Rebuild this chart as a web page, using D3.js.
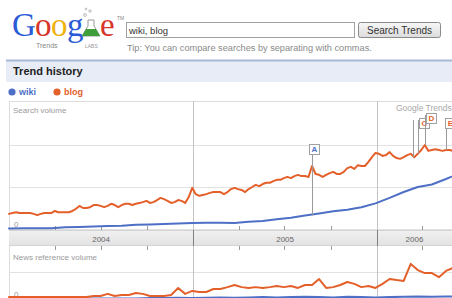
<!DOCTYPE html>
<html>
<head>
<meta charset="utf-8">
<script src="https://cdn.jsdelivr.net/npm/d3@7"></script>
<style>
  body { margin: 0; background: #fff; }
  svg { display: block; font-family: "Liberation Sans", Arial, sans-serif; }
</style>
</head>
<body>
<div id="chart"></div>
<script>
// --- Data ---
const queryText = "wiki, blog";
const seriesNames = ["wiki", "blog"];
const yearLabels = ["2004", "2005", "2006"];
const startDate = new Date(2004, 0, 1);

// search volume, one value per week
const blogSearch = [
  .36, .38, .40, .38, .38, .38, .38, .36, .33, .36,
  .38, .38, .38, .43, .40, .40, .40, .40, .43, .48,
  .55, .50, .50, .52, .57, .57, .55, .52, .55, .60,
  .57, .52, .57, .60, .60, .57, .60, .62, .64, .67,
  .62, .64, .69, .74, .71, .67, .62, .64, .69, .67,
  .62, .76, .98, .83, .79, .81, .83, .86, .88, .88,
  .88, .83, .88, .95, .98, .95, .93, .88, .95, 1.00,
  1.05, 1.02, 1.07, 1.10, 1.10, 1.14, 1.17, 1.17, 1.21, 1.24,
  1.21, 1.26, 1.29, 1.26, 1.26, 1.24, 1.50, 1.31, 1.29, 1.24,
  1.29, 1.33, 1.36, 1.31, 1.31, 1.36, 1.45, 1.48, 1.43, 1.52,
  1.50, 1.50, 1.60, 1.71, 1.81, 1.79, 1.74, 1.76, 1.83, 1.74,
  1.69, 1.67, 1.71, 1.76, 1.79, 1.71, 1.79, 1.88, 2.00, 1.86,
  1.88, 1.90, 1.88, 1.86, 1.88, 1.88, 1.86, 1.88, 1.86, 1.83
];
// search volume, one value every 4 weeks
const wikiSearch = [
  .01, .02, .02, .02, .04, .05, .06, .07, .08, .10,
  .11, .12, .13, .14, .15, .15, .14, .17, .19, .23,
  .27, .32, .37, .42, .46, .52, .61, .74, .88, 1.00,
  1.06, 1.19, 1.33
];
// news reference volume, one value every 2 weeks
const blogNews = [
  .07, .07, .07, .07, .07, .07, .07, .07, .07, .07,
  .07, .07, .11, .11, .19, .11, .15, .15, .22, .19,
  .11, .11, .11, .15, .41, .19, .30, .26, .26, .37,
  .37, .44, .52, .44, .41, .44, .41, .44, .48, .44,
  .48, .41, .52, .52, .74, .41, .44, .52, .63, .56,
  .44, .48, .41, .56, .74, .70, .67, 1.30, 1.07, .96,
  .96, .81, 1.04, 1.15, 1.15
];
// news reference volume, one value every 4 weeks
const wikiNews = [
  .02, .02, .02, .02, .02, .02, .02, .02, .02, .02,
  .04, .04, .05, .04, .05, .06, .05, .06, .07, .06,
  .07, .08, .07, .06, .08, .07, .06, .07, .08, .09,
  .08, .09, .10
];

// news flags
const flagLetters = ["A", "C", "D", "E"];
const flagSeries = ["wiki", "blog", "blog", "blog"];
const flagDates = [["2005-08-24"], ["2006-03-13", "2006-03-23"], ["2006-04-06"], ["2006-05-18"]];

// --- Setup ---
const W = 452, H = 298;
const colors = { wiki: "#4e6fc6", blog: "#e4602a" };
const svg = d3.select("#chart").append("svg").attr("width", W).attr("height", H);

// --- Header: logo, search box, tip ---
const logo = svg.append("g");
const logoLetters = [
  { ch: "G", x: 12, c: "#2a5bd7" },
  { ch: "o", x: 35, c: "#d8352a" },
  { ch: "o", x: 51, c: "#eeb211" },
  { ch: "g", x: 67, c: "#2a5bd7" },
  { ch: "e", x: 100, c: "#d8352a" }
];
logo.selectAll("text.l").data(logoLetters).enter().append("text")
  .attr("class", "l")
  .attr("x", d => d.x).attr("y", 36)
  .attr("font-family", "'Liberation Serif', serif")
  .attr("font-size", 33)
  .attr("fill", d => d.c)
  .text(d => d.ch);
// flask in place of the "l"
logo.append("path").attr("d", "M88,20 L94,20 L94,26 L100,36 L82,36 L88,26 Z")
  .attr("fill", "#fff").attr("stroke", "#999").attr("stroke-width", 1);
logo.append("path").attr("d", "M86,29 L96,29 L100,36 L82,36 Z").attr("fill", "#3f9e3a");
[[85, 15, 1.4], [90, 11, 1.2], [86, 9, 0.9]].forEach(b => {
  logo.append("circle").attr("cx", b[0]).attr("cy", b[1]).attr("r", b[2])
    .attr("fill", "none").attr("stroke", "#aaa").attr("stroke-width", 0.8);
});
logo.append("text").attr("x", 117).attr("y", 20).attr("font-size", 5).attr("fill", "#888").text("TM");
logo.append("text").attr("x", 36).attr("y", 48).attr("font-size", 7).attr("fill", "#888").text("Trends");
logo.append("text").attr("x", 85).attr("y", 48).attr("font-size", 5).attr("fill", "#999").text("LABS");

svg.append("rect").attr("x", 126.5).attr("y", 22.5).attr("width", 228).attr("height", 15)
  .attr("fill", "#fff").attr("stroke", "#a0a0a0");
svg.append("text").attr("x", 129).attr("y", 33.5).attr("font-size", 9.5).attr("fill", "#333").text(queryText);

const grad = svg.append("defs").append("linearGradient").attr("id", "btn")
  .attr("x1", 0).attr("y1", 0).attr("x2", 0).attr("y2", 1);
grad.append("stop").attr("offset", "0%").attr("stop-color", "#f7f7f7");
grad.append("stop").attr("offset", "100%").attr("stop-color", "#dcdcdc");
svg.append("rect").attr("x", 358.5).attr("y", 22.5).attr("width", 82).attr("height", 15).attr("rx", 2)
  .attr("fill", "url(#btn)").attr("stroke", "#8a8a8a");
svg.append("text").attr("x", 399.5).attr("y", 33.5).attr("text-anchor", "middle")
  .attr("font-size", 10).attr("fill", "#333").text("Search Trends");

svg.append("text").attr("x", 127).attr("y", 51).attr("font-size", 9.2).attr("fill", "#8a8a8a")
  .text("Tip: You can compare searches by separating with commas.");

// --- Trend history band + legend ---
svg.append("rect").attr("x", 6).attr("y", 60).attr("width", W).attr("height", 22).attr("fill", "#e7ecf6");
svg.append("line").attr("x1", 6).attr("x2", W).attr("y1", 60.5).attr("y2", 60.5)
  .attr("stroke", "#a9b7d6").attr("stroke-width", 2);
svg.append("text").attr("x", 13).attr("y", 75).attr("font-size", 11).attr("font-weight", "bold")
  .attr("fill", "#222").text("Trend history");

const legend = svg.append("g").attr("transform", "translate(0,92)");
let lx = 12;
seriesNames.forEach(name => {
  legend.append("circle").attr("cx", lx).attr("cy", 0).attr("r", 3.6).attr("fill", colors[name]);
  legend.append("text").attr("x", lx + 7).attr("y", 3.2).attr("font-size", 9)
    .attr("font-weight", "bold").attr("fill", colors[name]).text(name);
  lx += 45;
});

// --- Scales ---
const x = d3.scaleTime()
  .domain([new Date(2004, 0, 1), new Date(2006, 0, 1)])
  .range([9, 377]);
const xEnd = 480;
const ySearch = d3.scaleLinear().domain([0, 3]).range([229, 103]);
const yNews = d3.scaleLinear().domain([0, 1]).range([299, 272]);
const bandTop = 230, bandBottom = 246, panelTop = 101;

const toSeries = (vals, step) => vals.map((v, i) => ({ date: d3.timeWeek.offset(startDate, i * step), value: v }));
const series = {
  search: { blog: toSeries(blogSearch, 1), wiki: toSeries(wikiSearch, 4) },
  news: { blog: toSeries(blogNews, 2), wiki: toSeries(wikiNews, 4) }
};

// --- Grid and panels ---
const grid = svg.append("g");
grid.append("line").attr("x1", 9).attr("x2", xEnd).attr("y1", panelTop + 0.5).attr("y2", panelTop + 0.5)
  .attr("stroke", "#dcdcdc");
[0, 1, 2].forEach(v => {
  grid.append("line").attr("x1", 9).attr("x2", xEnd)
    .attr("y1", Math.round(ySearch(v)) + 0.5).attr("y2", Math.round(ySearch(v)) + 0.5)
    .attr("stroke", "#e2e2e2");
});
grid.append("line").attr("x1", 9).attr("x2", xEnd)
  .attr("y1", Math.round(yNews(1)) + 0.5).attr("y2", Math.round(yNews(1)) + 0.5).attr("stroke", "#e2e2e2");
grid.append("line").attr("x1", 9.5).attr("x2", 9.5).attr("y1", panelTop).attr("y2", H).attr("stroke", "#dcdcdc");

// axis band
const bandGrad = svg.select("defs").append("linearGradient").attr("id", "band")
  .attr("x1", 0).attr("y1", 0).attr("x2", 0).attr("y2", 1);
bandGrad.append("stop").attr("offset", "0%").attr("stop-color", "#f1f1f1");
bandGrad.append("stop").attr("offset", "100%").attr("stop-color", "#e2e2e2");
grid.append("rect").attr("x", 9).attr("y", bandTop).attr("width", xEnd).attr("height", bandBottom - bandTop)
  .attr("fill", "url(#band)");
grid.append("line").attr("x1", 9).attr("x2", xEnd).attr("y1", bandTop + 0.5).attr("y2", bandTop + 0.5).attr("stroke", "#d4d4d4");
grid.append("line").attr("x1", 9).attr("x2", xEnd).attr("y1", bandBottom - 0.5).attr("y2", bandBottom - 0.5).attr("stroke", "#d4d4d4");

// year separators
const yearLines = d3.timeYear.range(new Date(2005, 0, 1), new Date(2007, 0, 1));
grid.selectAll("line.yr").data(yearLines).enter().append("line")
  .attr("x1", d => Math.round(x(d)) + 0.5).attr("x2", d => Math.round(x(d)) + 0.5)
  .attr("y1", panelTop).attr("y2", H).attr("stroke", "#c4c4c4");
grid.selectAll("line.yrb").data(yearLines).enter().append("line")
  .attr("x1", d => Math.round(x(d)) + 0.5).attr("x2", d => Math.round(x(d)) + 0.5)
  .attr("y1", bandTop).attr("y2", bandBottom).attr("stroke", "#808080");

// quarter ticks
const quarters = d3.timeMonth.every(3).range(new Date(2004, 0, 1), new Date(2006, 11, 31))
  .filter(d => d.getMonth() !== 0);
[[bandTop - 4, bandTop], [bandBottom, bandBottom + 4]].forEach(([a, b]) => {
  grid.selectAll(null).data(quarters).enter().append("line")
    .attr("x1", d => Math.round(x(d)) + 0.5).attr("x2", d => Math.round(x(d)) + 0.5)
    .attr("y1", a).attr("y2", b).attr("stroke", "#999");
});

// year labels centred on the visible span
yearLabels.forEach(label => {
  const y0 = +label;
  const a = Math.max(x(new Date(y0, 0, 1)), 9);
  const b = Math.min(x(new Date(y0 + 1, 0, 1)), W);
  grid.append("text").attr("x", (a + b) / 2).attr("y", 241.5).attr("text-anchor", "middle")
    .attr("font-size", 8).attr("fill", "#666").text(label);
});

// panel labels
const lab = svg.append("g").attr("font-size", 8).attr("fill", "#9a9a9a");
lab.append("text").attr("x", 13).attr("y", 113).text("Search volume");
lab.append("text").attr("x", 13).attr("y", 260).text("News reference volume");
lab.append("text").attr("x", 14).attr("y", 227).text("0");
lab.append("text").attr("x", 14).attr("y", 297).text("0");
lab.append("text").attr("x", 396).attr("y", 111).attr("font-size", 8.5).attr("fill", "#a8a8a8").text("Google Trends");

// --- Lines ---
const lines = svg.append("g").attr("fill", "none").attr("stroke-width", 2)
  .attr("stroke-linejoin", "round").attr("stroke-linecap", "round");
const searchLine = d3.line().x(d => x(d.date)).y(d => ySearch(d.value));
const newsLine = d3.line().x(d => x(d.date)).y(d => yNews(d.value));
["wiki", "blog"].forEach(name => {
  lines.append("path").attr("d", searchLine(series.search[name])).attr("stroke", colors[name]);
});
["wiki", "blog"].forEach(name => {
  lines.append("path").attr("d", newsLine(series.news[name])).attr("stroke", colors[name]);
});

// --- News flags ---
const flagLayout = { A: { dx: -3, gap: 12 }, C: { dx: 1, gap: 26 }, D: { dx: 1, gap: 22 }, E: { dx: -1, gap: 22 } };
const parse = d3.timeParse("%Y-%m-%d");
const valueAt = (data, date) => {
  const i = d3.bisector(d => d.date).center(data, date);
  return data[i].value;
};
const flags = svg.append("g");
flagLetters.forEach((letter, k) => {
  const dates = flagDates[k].map(parse);
  const main = dates[dates.length - 1];
  const lay = flagLayout[letter];
  const blogY = ySearch(valueAt(series.search.blog, main));
  const boxH = 10, boxW = 10;
  const boxBottom = Math.round(blogY - lay.gap);
  const boxLeft = Math.round(x(main)) + lay.dx;
  dates.forEach(dt => {
    const sx = Math.round(x(dt)) + 0.5;
    const sy = ySearch(valueAt(series.search[flagSeries[k]], dt));
    flags.append("line").attr("x1", sx).attr("x2", sx).attr("y1", boxBottom - boxH + 2).attr("y2", sy)
      .attr("stroke", "#9a9a9a");
  });
  flags.append("rect").attr("x", boxLeft + 0.5).attr("y", boxBottom - boxH + 0.5)
    .attr("width", boxW).attr("height", boxH).attr("fill", "#fff").attr("stroke", "#a0a0a0");
  flags.append("text").attr("x", boxLeft + 0.5 + boxW / 2).attr("y", boxBottom - 2)
    .attr("text-anchor", "middle").attr("font-size", 8).attr("font-weight", "bold")
    .attr("fill", colors[flagSeries[k]]).text(letter);
});
</script>
</body>
</html>
